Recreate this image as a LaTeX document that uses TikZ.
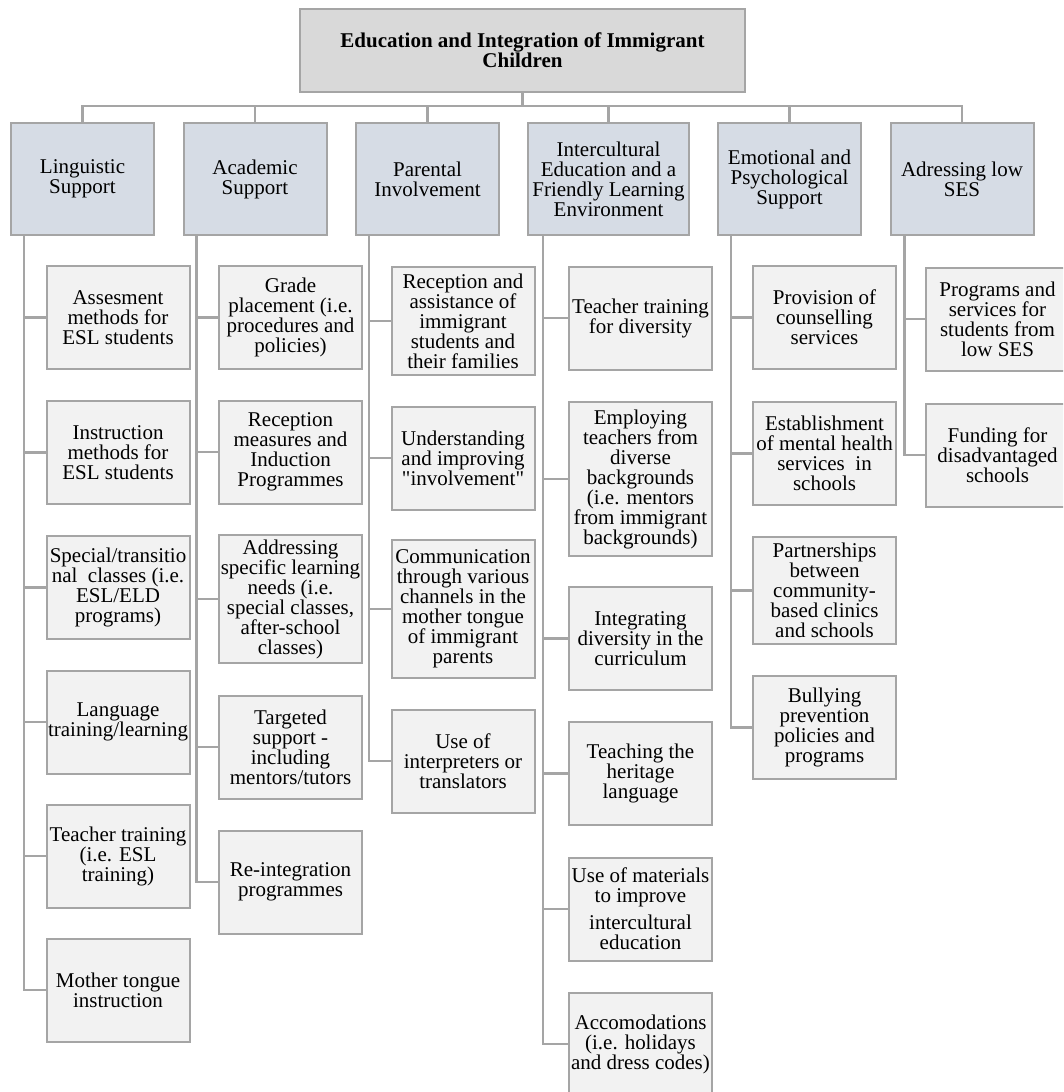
\documentclass[tikz,border=0pt]{standalone}
\usepackage{fontspec}
\setmainfont{Liberation Serif}
\usetikzlibrary{positioning}
\definecolor{rootfill}{HTML}{D9D9D9}
\definecolor{catfill}{HTML}{D6DCE5}
\definecolor{itemfill}{HTML}{F2F2F2}
\definecolor{edgegray}{HTML}{A5A5A5}

\begin{document}
\begin{tikzpicture}[x=1pt, y=-1pt,
  box/.style={draw=edgegray, line width=2pt, align=center, inner sep=1pt,
    font=\fontsize{21}{20}\selectfont},
  topbox/.style={box, fill=rootfill, minimum width=445, minimum height=83,
    font=\fontsize{21}{18.3}\selectfont\bfseries},
  catbox/.style={box, fill=catfill, minimum width=143, minimum height=112},
  itembox/.style={box, fill=itemfill, minimum width=143, minimum height=103},
  link/.style={draw=edgegray, line width=2.5pt}]
  % Page size (the picture is cut at the right and bottom)
  \useasboundingbox (0,0) rectangle (1063,1092);
  \clip (0,0) rectangle (1063,1092);

  % Root
  \node[topbox] (root) at (522.5,50) {Education and Integration of Immigrant\\Children};

  % Categories
  \node[catbox] (ling)  at (82.5,179)  {Linguistic\\Support};
  \node[catbox] (acad)  at (255,179)   {Academic\\Support};
  \node[catbox] (par)   at (427.5,179) {Parental\\Involvement};
  \node[catbox, minimum width=161] (inter) at (608.5,179)
    {Intercultural\\Education and a\\Friendly Learning\\Environment};
  \node[catbox] (emo)   at (789.5,179) {Emotional and\\Psychological\\Support};
  \node[catbox] (ses)   at (962,179)   {Adressing low\\SES};

  % Linguistic Support
  \node[itembox] (ling1) at (118,317.5) {Assesment\\methods for\\ESL students};
  \node[itembox] (ling2) at (118,452.5) {Instruction\\methods for\\ESL students};
  \node[itembox] (ling3) at (118,587.5) {Special/transitio\\nal~~classes (i.e.\\ESL/ELD\\programs)};
  \node[itembox] (ling4) at (118,722)   {Language\\training/learning};
  \node[itembox] (ling5) at (118,856)   {Teacher training\\(i.e. ESL\\training)};
  \node[itembox] (ling6) at (118,990)   {Mother tongue\\instruction};

  % Academic Support
  \node[itembox] (acad1) at (290.5,317.5) {Grade\\placement (i.e.\\procedures and\\policies)};
  \node[itembox] (acad2) at (290.5,452)   {Reception\\measures and\\Induction\\Programmes};
  \node[itembox, minimum height=128] (acad3) at (290.5,599)
    {Addressing\\specific learning\\needs (i.e.\\special classes,\\after-school\\classes)};
  \node[itembox] (acad4) at (290.5,747)   {Targeted\\support -\\including\\mentors/tutors};
  \node[itembox] (acad5) at (290.5,882)   {Re-integration\\programmes};

  % Parental Involvement
  \node[itembox, minimum height=108] (par1) at (463,321)
    {Reception and\\assistance of\\immigrant\\students and\\their families};
  \node[itembox] (par2) at (463,458)
    {Understanding\\and improving\\\textquotedbl involvement\textquotedbl};
  \node[itembox, minimum height=138] (par3) at (463,609)
    {Communication\\through various\\channels in the\\mother tongue\\of immigrant\\parents};
  \node[itembox] (par4) at (463,761) {Use of\\interpreters or\\translators};

  % Intercultural Education
  \node[itembox] (inter1) at (640.5,318) {Teacher training\\for diversity};
  \node[itembox, minimum height=154] (inter2) at (640.5,479)
    {Employing\\teachers from\\diverse\\backgrounds\\(i.e. mentors\\from immigrant\\backgrounds)};
  \node[itembox] (inter3) at (640.5,638.5) {Integrating\\diversity in the\\curriculum};
  \node[itembox] (inter4) at (640.5,773.5) {Teaching the\\heritage\\language};
  \node[itembox] (inter5) at (640.5,909)
    {Use of materials\\to improve\\[7pt]intercultural\\education};
  \node[itembox] (inter6) at (640.5,1044) {Accomodations\\(i.e. holidays\\and dress codes)};

  % Emotional and Psychological Support
  \node[itembox] (emo1) at (824.5,317.5) {Provision of\\counselling\\services};
  \node[itembox] (emo2) at (824.5,453.5) {Establishment\\of mental health\\services~~in\\schools};
  \node[itembox, minimum height=107] (emo3) at (824.5,590.5)
    {Partnerships\\between\\community-\\based clinics\\and schools};
  \node[itembox] (emo4) at (824.5,727.5) {Bullying\\prevention\\policies and\\programs};

  % Adressing low SES
  \node[itembox] (ses1) at (997.5,319) {Programs and\\services for\\students from\\low SES};
  \node[itembox] (ses2) at (997.5,455) {Funding for\\disadvantaged\\schools};

  % Root to categories
  \coordinate (bus) at (522.5,106);
  \draw[link] (root.south) -- (bus);
  \foreach \c in {ling,acad,par,inter,emo,ses}
    \draw[link] (bus) -| (\c.north);

  % Categories to items
  \foreach \n in {1,...,6}
    \draw[link] ([xshift=14pt]ling.south west) |- (ling\n.west);
  \foreach \n in {1,...,5}
    \draw[link] ([xshift=14pt]acad.south west) |- (acad\n.west);
  \foreach \n in {1,...,4}
    \draw[link] ([xshift=14pt]par.south west) |- (par\n.west);
  \foreach \n in {1,...,6}
    \draw[link] ([xshift=16pt]inter.south west) |- (inter\n.west);
  \foreach \n in {1,...,4}
    \draw[link] ([xshift=14pt]emo.south west) |- (emo\n.west);
  \foreach \n in {1,2}
    \draw[link] ([xshift=15pt]ses.south west) |- (ses\n.west);
\end{tikzpicture}
\end{document}
